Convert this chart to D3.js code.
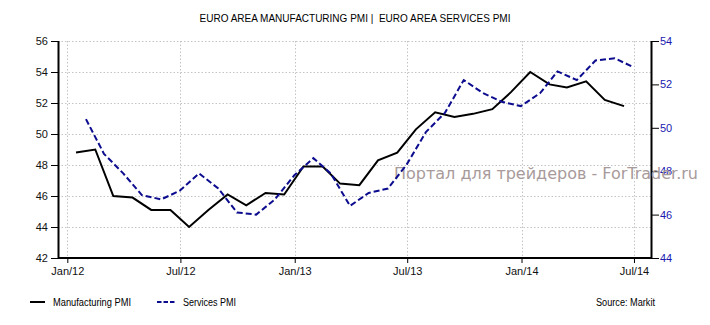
<!DOCTYPE html>
<html>
<head>
<meta charset="utf-8">
<script src="https://cdn.jsdelivr.net/npm/d3@7"></script>
<style>
  html, body { margin: 0; padding: 0; background: #fff; }
  svg { display: block; font-family: "Liberation Sans", Arial, sans-serif; }
</style>
</head>
<body>
<svg id="chart" width="710" height="325"></svg>
<script>
// Monthly readings, Jan 2012 – Jun 2014
const months = [
  "2012-01","2012-02","2012-03","2012-04","2012-05","2012-06",
  "2012-07","2012-08","2012-09","2012-10","2012-11","2012-12",
  "2013-01","2013-02","2013-03","2013-04","2013-05","2013-06",
  "2013-07","2013-08","2013-09","2013-10","2013-11","2013-12",
  "2014-01","2014-02","2014-03","2014-04","2014-05","2014-06"
];
const manufacturing = [
  48.8, 49.0, 46.0, 45.9, 45.1, 45.1, 44.0, 45.1, 46.1, 45.4, 46.2, 46.1,
  47.9, 47.9, 46.8, 46.7, 48.3, 48.8, 50.3, 51.4, 51.1, 51.3, 51.6, 52.7,
  54.0, 53.2, 53.0, 53.4, 52.2, 51.8
];
const services = [
  50.4, 48.8, 47.9, 46.9, 46.7, 47.1, 47.9, 47.2, 46.1, 46.0, 46.7, 47.8,
  48.6, 47.9, 46.4, 47.0, 47.2, 48.3, 49.8, 50.7, 52.2, 51.6, 51.2, 51.0,
  51.6, 52.6, 52.2, 53.1, 53.2, 52.8
];
const xTickDates = ["2012-01-01","2012-07-01","2013-01-01","2013-07-01","2014-01-01","2014-07-01"];
const xTickLabels = ["Jan/12","Jul/12","Jan/13","Jul/13","Jan/14","Jul/14"];
const leftTicks = [42, 44, 46, 48, 50, 52, 54, 56];
const rightTicks = [44, 46, 48, 50, 52, 54];

const title = "EURO AREA MANUFACTURING PMI |  EURO AREA SERVICES PMI";
const seriesNames = ["Manufacturing PMI", "Services PMI"];
const sourceText = "Source: Markit";
const watermark = "Портал для трейдеров - ForTrader.ru";

const svg = d3.select("#chart");
const plot = { left: 58, right: 652, top: 41, bottom: 258 };

const parse = d3.utcParse("%Y-%m-%d");
// Manufacturing is plotted mid-month, services at month end
const mfgDates = months.map(m => parse(m + "-15"));
const svcDates = months.map(m => {
  const d = parse(m + "-01");
  return d3.utcDay.offset(d3.utcMonth.offset(d, 1), -1);
});

const x = d3.scaleUtc()
  .domain([parse("2011-12-17"), parse("2014-07-30")])
  .range([plot.left, plot.right]);
const yL = d3.scaleLinear().domain([42, 56]).range([plot.bottom, plot.top]);
const yR = d3.scaleLinear().domain([44, 54]).range([plot.bottom, plot.top]);

const tickDates = xTickDates.map(parse);

// Dotted grid
const grid = svg.append("g")
  .attr("stroke", "#c4c4c4").attr("stroke-width", 1).attr("stroke-dasharray", "1.5,2");
grid.selectAll("line.h").data(leftTicks.slice(1)).join("line")
  .attr("x1", plot.left).attr("x2", plot.right)
  .attr("y1", d => Math.round(yL(d)) + 0.5).attr("y2", d => Math.round(yL(d)) + 0.5);
grid.selectAll("line.v").data(tickDates).join("line")
  .attr("x1", d => Math.round(x(d)) + 0.5).attr("x2", d => Math.round(x(d)) + 0.5)
  .attr("y1", plot.top).attr("y2", plot.bottom);

// Axes
const axisFont = g => g.selectAll("text").attr("font-size", 11).attr("font-family", "\"Liberation Sans\", Arial, sans-serif");

const leftAxis = svg.append("g")
  .attr("transform", `translate(${plot.left},0)`)
  .call(d3.axisLeft(yL).tickValues(leftTicks).tickSize(7).tickPadding(3).tickFormat(d3.format("d")))
  .call(axisFont);
leftAxis.selectAll("text").attr("fill", "#111");

const rightAxis = svg.append("g")
  .attr("transform", `translate(${plot.right},0)`)
  .call(d3.axisRight(yR).tickValues(rightTicks).tickSize(7).tickPadding(1).tickFormat(d3.format("d")))
  .call(axisFont);
rightAxis.selectAll("text").attr("fill", "#1a1ab0");

const bottomAxis = svg.append("g")
  .attr("transform", `translate(0,${plot.bottom})`)
  .call(d3.axisBottom(x).tickValues(tickDates).tickSize(5).tickPadding(4)
    .tickFormat((d, i) => xTickLabels[i]))
  .call(axisFont);
bottomAxis.selectAll("text").attr("fill", "#111");

[leftAxis, rightAxis, bottomAxis].forEach(g => {
  g.select(".domain").attr("stroke", "#000").attr("stroke-width", 2);
  g.selectAll(".tick line").attr("stroke", "#000").attr("stroke-width", 1);
});
leftAxis.select(".domain").attr("d", `M0.5,${plot.top}V${plot.bottom}`);
rightAxis.select(".domain").attr("d", `M-0.5,${plot.top}V${plot.bottom}`);
bottomAxis.select(".domain").attr("d", `M${plot.left},0H${plot.right}`);

// Watermark
svg.append("text")
  .attr("x", 394).attr("y", 179)
  .attr("font-family", "\"DejaVu Sans\", Verdana, sans-serif")
  .attr("font-size", 16)
  .attr("fill", "#a89a9a")
  .attr("textLength", 304).attr("lengthAdjust", "spacingAndGlyphs")
  .text(watermark);

// Series lines
const mfgLine = d3.line().x((d, i) => x(mfgDates[i])).y(d => yL(d));
const svcLine = d3.line().x((d, i) => x(svcDates[i])).y(d => yR(d));

svg.append("path").datum(manufacturing)
  .attr("d", mfgLine).attr("fill", "none")
  .attr("stroke", "#000").attr("stroke-width", 2).attr("stroke-linejoin", "miter");

svg.append("path").datum(services)
  .attr("d", svcLine).attr("fill", "none")
  .attr("stroke", "#0c0c8e").attr("stroke-width", 2).attr("stroke-dasharray", "6,3");

// Title (keeps the double space after the separator)
svg.append("text")
  .attr("x", 355).attr("y", 22).attr("text-anchor", "middle")
  .attr("font-size", 11).attr("fill", "#000")
  .style("white-space", "pre")
  .attr("xml:space", "preserve")
  .attr("textLength", 311).attr("lengthAdjust", "spacingAndGlyphs")
  .text(title);

// Legend
const legend = svg.append("g").attr("font-size", 10).attr("fill", "#000");
legend.append("line").attr("x1", 30).attr("x2", 45).attr("y1", 302).attr("y2", 302)
  .attr("stroke", "#000").attr("stroke-width", 2);
legend.append("text").attr("x", 53).attr("y", 305.5)
  .attr("textLength", 78).attr("lengthAdjust", "spacingAndGlyphs").text(seriesNames[0]);
legend.append("line").attr("x1", 157).attr("x2", 175).attr("y1", 302).attr("y2", 302)
  .attr("stroke", "#0c0c8e").attr("stroke-width", 2).attr("stroke-dasharray", "4.5,2");
legend.append("text").attr("x", 183).attr("y", 305.5)
  .attr("textLength", 53).attr("lengthAdjust", "spacingAndGlyphs").text(seriesNames[1]);
legend.append("text").attr("x", 596).attr("y", 305.5)
  .attr("textLength", 59).attr("lengthAdjust", "spacingAndGlyphs").text(sourceText);
</script>
</body>
</html>
